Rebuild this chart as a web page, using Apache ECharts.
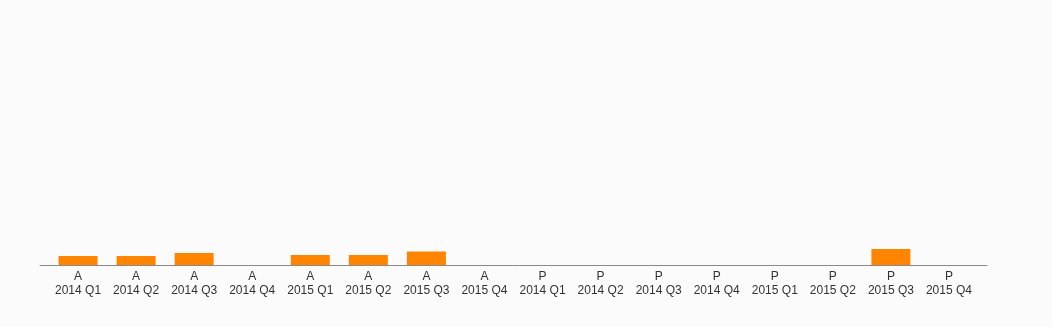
<!DOCTYPE html>
<html><head><meta charset="utf-8">
<script src="https://cdn.jsdelivr.net/npm/echarts@6/dist/echarts.min.js"></script>
<style>html,body{margin:0;padding:0;background:#fbfbfb;}#c{width:1052px;height:327px;}</style>
</head><body><div id="c"></div>
<script>
var types = ['A','A','A','A','A','A','A','A','P','P','P','P','P','P','P','P'];
var periods = ['2014 Q1','2014 Q2','2014 Q3','2014 Q4','2015 Q1','2015 Q2','2015 Q3','2015 Q4',
               '2014 Q1','2014 Q2','2014 Q3','2014 Q4','2015 Q1','2015 Q2','2015 Q3','2015 Q4'];
var values = [9, 9, 12, 0, 10, 10, 13.5, 0, 0, 0, 0, 0, 0, 0, 16, 0];
var categories = types.map(function(t,i){ return t + '\n' + periods[i]; });

var chart = echarts.init(document.getElementById('c'));
chart.setOption({
  backgroundColor: '#fbfbfb',
  animation: false,
  grid: [
    {left: 49, right: 74, top: 15, bottom: 62},
    {left: 40, right: 65, top: 15, bottom: 62}
  ],
  xAxis: [
    {type: 'category', gridIndex: 0, data: categories,
     axisLine: {show: false}, axisTick: {show: false},
     axisLabel: {interval: 0, color: '#333', fontFamily: 'Liberation Sans, Arial, sans-serif', fontSize: 12, lineHeight: 14, margin: 5}},
    {type: 'value', gridIndex: 1, min: 0, max: 1, show: true,
     axisLine: {show: true, lineStyle: {color: '#8a8a8a', width: 1}},
     axisTick: {show: false}, axisLabel: {show: false}, splitLine: {show: false}}
  ],
  yAxis: [
    {type: 'value', gridIndex: 0, min: 0, max: 250, show: false, splitLine: {show: false}},
    {type: 'value', gridIndex: 1, min: 0, max: 1, show: false, splitLine: {show: false}}
  ],
  series: [{
    type: 'bar', xAxisIndex: 0, yAxisIndex: 0, data: values,
    barWidth: 39, itemStyle: {color: '#ff8400'}
  }]
});
</script></body></html>
